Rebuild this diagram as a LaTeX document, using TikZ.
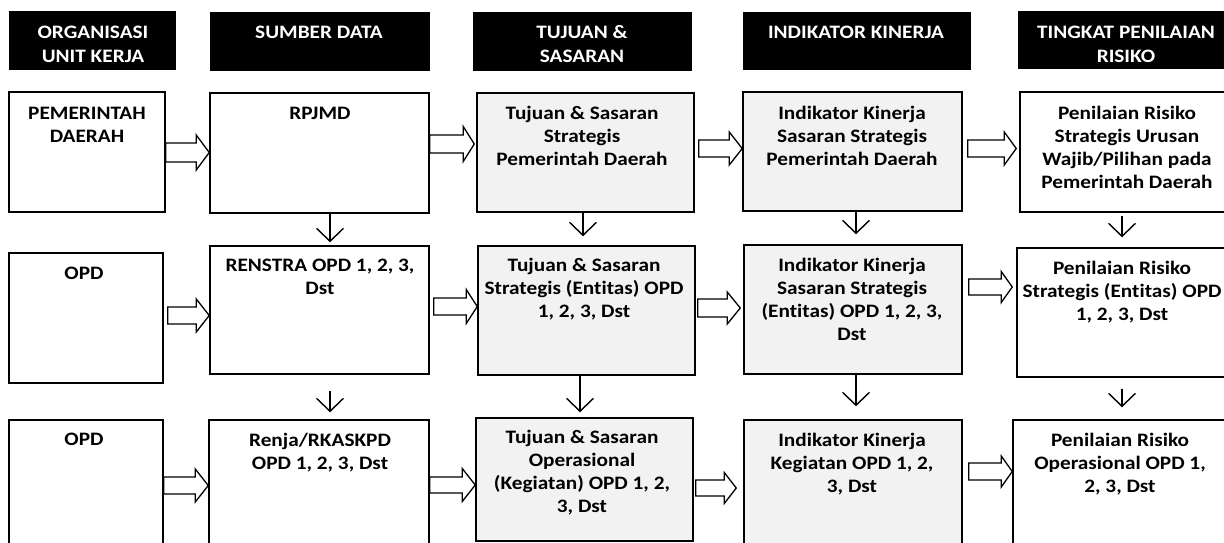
\documentclass[tikz,border=0pt]{standalone}
\usepackage{fontspec}
\setmainfont{Carlito}[FakeStretch=1.12, RawFeature={-liga}]
\usetikzlibrary{arrows.meta,calc}
\newcommand\ml[1]{\begin{tabular}[t]{@{}c@{}}#1\end{tabular}}
\begin{document}
\begin{tikzpicture}[x=1pt,y=-1pt,
  txt/.style={font=\bfseries\fontsize{19}{23.3}\selectfont, inner sep=0pt, anchor=base},
  hdr/.style={draw=black, fill=black, line width=1pt, inner sep=0pt},
  hdrtxt/.style={txt, text=white},
  wbox/.style={draw=black, line width=1.5pt, fill=white, inner sep=0pt},
  gbox/.style={wbox, fill=black!5},
  barr/.style={draw=black, line width=1.3pt, fill=white, line join=miter},
  darr/.style={draw=black, line width=1.4pt, -{Straight Barb[length=13pt,width=27pt,line width=1.4pt]}}
]
\useasboundingbox (0,0) rectangle (1224,543);
\clip (0,0) rectangle (1224,543);
% box macro: name, x1, y1, x2, y2, style
\newcommand\mybox[6]{\node[#6, minimum width={#4-#2}, minimum height={#5-#3}] (#1) at ({(#2+#4)/2},{(#3+#5)/2}) {};}
\newcommand\mytext[5]{\node[#4] (#1) at (#2,#3) {\ml{#5}};}
% block arrow: from, to, yc, half shaft, half head, head length, start gap, end gap
\newcommand\barrow[8]{%
  \coordinate (bs) at ($(#1.east |- 0,#3)+(#7,0)$);
  \coordinate (be) at ($(#2.west |- 0,#3)+(-#8,0)$);
  \draw[barr] ($(bs)+(0,-#4)$) -- ($(be)+(-#6,-#4)$) -- ($(be)+(-#6,-#5)$) -- (be)
     -- ($(be)+(-#6,#5)$) -- ($(be)+(-#6,#4)$) -- ($(bs)+(0,#4)$) -- cycle;}
% down arrow: from, to, x, start offset, end offset
\newcommand\darrow[5]{%
  \draw[darr] ($(#1.south -| #3,0)+(0,#4)$) -- ($(#2.north -| #3,0)+(0,-#5)$);}

% headers
\mybox{h1}{9}{12}{175}{70}{hdr}
\mybox{h2}{210}{13}{429}{71}{hdr}
\mybox{h3}{473}{13}{691}{71}{hdr}
\mybox{h4}{743}{13}{970}{70}{hdr}
\mybox{h5}{1018}{12}{1240}{69}{hdr}
\mytext{th1}{93}{39}{hdrtxt}{ORGANISASI\\UNIT KERJA}
\mytext{th2}{319}{39}{hdrtxt}{SUMBER DATA}
\mytext{th3}{582}{39}{hdrtxt}{TUJUAN \&\\SASARAN}
\mytext{th4}{856}{39}{hdrtxt}{INDIKATOR KINERJA}
\mytext{th5}{1126}{39}{hdrtxt}{TINGKAT PENILAIAN\\RISIKO}

% row 1
\mybox{b11}{9}{92}{165}{212}{wbox}
\mybox{b12}{210}{93}{429}{213}{wbox}
\mybox{b13}{477}{93}{694}{212}{gbox}
\mybox{b14}{743}{92}{962}{211}{gbox}
\mybox{b15}{1020}{92}{1236}{212}{wbox}
% row 2
\mybox{b21}{9}{253}{163}{383}{wbox}
\mybox{b22}{210}{246}{429}{374}{wbox}
\mybox{b23}{478}{246}{695}{375}{gbox}
\mybox{b24}{744}{245}{962}{374}{gbox}
\mybox{b25}{1017}{248}{1236}{377}{wbox}
% row 3
\mybox{b31}{9}{420}{163}{548}{wbox}
\mybox{b32}{209}{420}{429}{548}{wbox}
\mybox{b33}{476}{418}{693}{541}{gbox}
\mybox{b34}{744}{420}{962}{548}{gbox}
\mybox{b35}{1013}{420}{1236}{548}{wbox}

% texts
\mytext{t11}{87}{119}{txt}{PEMERINTAH\\DAERAH}
\mytext{t12}{320}{119}{txt}{RPJMD}
\mytext{t13}{582}{119}{txt}{Tujuan \& Sasaran\\Strategis\\Pemerintah Daerah}
\mytext{t14}{852}{119}{txt}{Indikator Kinerja\\Sasaran Strategis\\Pemerintah Daerah}
\mytext{t15}{1127}{119}{txt}{Penilaian Risiko\\Strategis Urusan\\Wajib/Pilihan pada\\Pemerintah Daerah}
\mytext{t21}{84}{279}{txt}{OPD}
\mytext{t22}{320}{271}{txt}{RENSTRA OPD 1, 2, 3,\\Dst}
\mytext{t23}{584}{271}{txt}{Tujuan \& Sasaran\\Strategis (Entitas) OPD\\1, 2, 3, Dst}
\mytext{t24}{852}{271}{txt}{Indikator Kinerja\\Sasaran Strategis\\(Entitas) OPD 1, 2, 3,\\Dst}
\mytext{t25}{1122}{274}{txt}{Penilaian Risiko\\Strategis (Entitas) OPD\\1, 2, 3, Dst}
\mytext{t31}{84}{445}{txt}{OPD}
\mytext{t32}{320}{446}{txt}{Renja/RKASKPD\\OPD 1, 2, 3, Dst}
\mytext{t33}{582}{443}{txt}{Tujuan \& Sasaran\\Operasional\\(Kegiatan) OPD 1, 2,\\3, Dst}
\mytext{t34}{852}{446}{txt}{Indikator Kinerja\\Kegiatan OPD 1, 2,\\3, Dst}
\mytext{t35}{1120}{446}{txt}{Penilaian Risiko\\Operasional OPD 1,\\2, 3, Dst}

% block arrows
\barrow{b11}{b12}{152.5}{9.5}{17.5}{13}{0}{0}
\barrow{b12}{b13}{144}{9}{17.5}{11}{0}{2}
\barrow{b13}{b14}{148.5}{8.5}{16.5}{13}{4}{0}
\barrow{b14}{b15}{148.5}{8.5}{16.5}{12}{5}{3}
\barrow{b21}{b22}{315.5}{8.5}{16.5}{13}{4}{0}
\barrow{b22}{b23}{306.5}{8.5}{17}{11}{4}{0}
\barrow{b23}{b24}{308}{9}{16}{13}{2}{3}
\barrow{b24}{b25}{287}{8}{15.5}{11}{6}{4}
\barrow{b31}{b32}{485.5}{8.5}{16.5}{13}{0}{0}
\barrow{b32}{b33}{485}{8}{16.5}{13}{0}{0}
\barrow{b33}{b34}{488}{8}{15.5}{12}{2}{7}
\barrow{b34}{b35}{471.5}{8.5}{15.5}{11}{6}{0}

% down arrows
\darrow{b12}{b22}{330}{0}{3}
\darrow{b22}{b32}{330}{16}{7}
\darrow{b13}{b23}{583}{0}{9}
\darrow{b23}{b33}{580}{0}{5}
\darrow{b14}{b24}{856}{0}{10}
\darrow{b24}{b34}{856}{0}{13}
\darrow{b15}{b25}{1122}{3}{10}
\darrow{b25}{b35}{1122}{11}{12}
\end{tikzpicture}
\end{document}
